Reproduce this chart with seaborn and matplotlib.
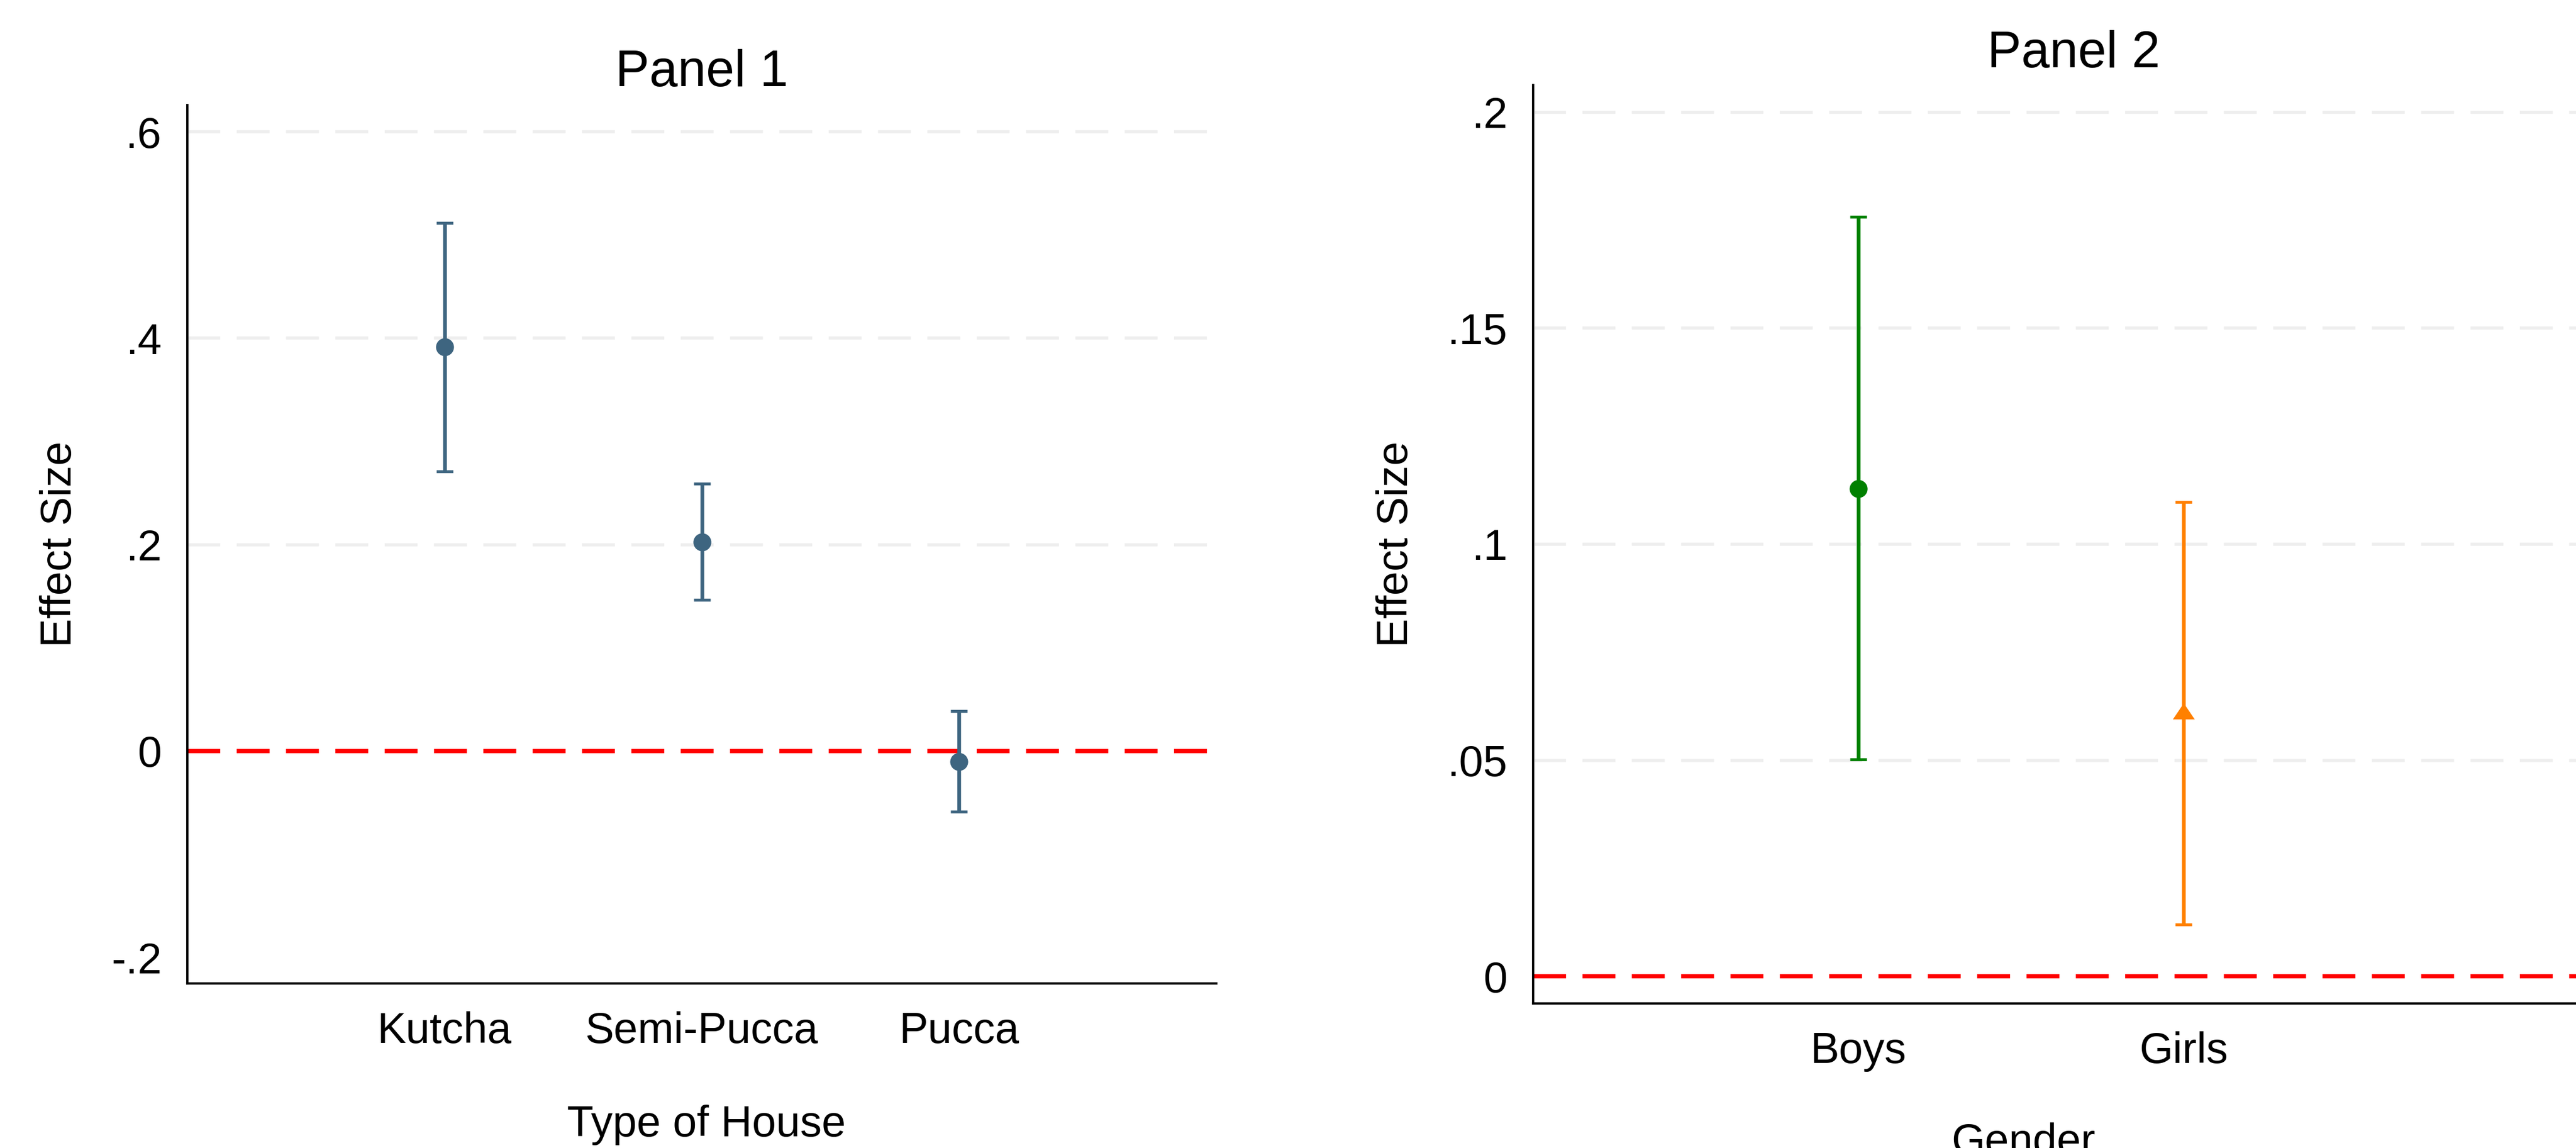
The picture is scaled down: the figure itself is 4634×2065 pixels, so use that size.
import numpy as np
import pandas as pd
import seaborn as sns
import matplotlib.pyplot as plt

# Panel 1: effect by type of house (point estimate and CI bounds)
house_types = ["Kutcha", "Semi-Pucca", "Pucca"]
house_est = [0.3915, 0.2025, -0.0104]
house_lo = [0.271, 0.1465, -0.0588]
house_hi = [0.512, 0.259, 0.0385]

# Panel 2: effect by gender
genders = ["Boys", "Girls"]
gender_est = [0.1129, 0.0614]
gender_lo = [0.0502, 0.0120]
gender_hi = [0.1758, 0.1098]

house_yticks = [-0.2, 0, 0.2, 0.4, 0.6]
house_yticklabels = ["-.2", "0", ".2", ".4", ".6"]
gender_yticks = [0, 0.05, 0.1, 0.15, 0.2]
gender_yticklabels = ["0", ".05", ".1", ".15", ".2"]

sns.set_theme(style="white")
plt.rcParams["font.family"] = ["Liberation Sans", "DejaVu Sans"]
plt.rcParams["lines.scale_dashes"] = False
plt.rcParams["text.color"] = "black"
plt.rcParams["axes.labelcolor"] = "black"
plt.rcParams["xtick.color"] = "black"
plt.rcParams["ytick.color"] = "black"

DASH = (42.6, 21.3)
GRID_COLOR = "#EEEEEE"
BLUE = "#3E6580"
GREEN = "#008000"
ORANGE = "#FF8000"
FS = 56

fig = plt.figure(figsize=(46.34, 20.65), dpi=100)
ax1 = fig.add_axes([0.07272, 0.14334, 0.3995, 0.76513])
ax2 = fig.add_axes([0.5952, 0.12591, 0.4165, 0.8])


def style_axis(ax):
    for side in ["top", "right"]:
        ax.spines[side].set_visible(False)
    for side in ["left", "bottom"]:
        ax.spines[side].set_linewidth(3.0)
        ax.spines[side].set_color("black")
    ax.tick_params(axis="both", direction="out", length=20, width=3.0,
                   color="black", labelsize=FS, labelcolor="black")
    ax.tick_params(axis="y", pad=13)
    ax.tick_params(axis="x", pad=16)
    ax.grid(False)


def draw_ci(ax, pos, est, lo, hi, color):
    est = np.array(est)
    yerr = [est - np.array(lo), np.array(hi) - est]
    ax.errorbar(pos, est, yerr=yerr, fmt="none", ecolor=color,
                elinewidth=4.8, capsize=10.5, capthick=3.8, zorder=3)


# ---- Panel 1
house_pos = np.arange(1, len(house_types) + 1)
for g in [0.2, 0.4, 0.6]:
    ax1.axhline(g, color=GRID_COLOR, lw=4, dashes=DASH, zorder=0)
ax1.axhline(0, color="red", lw=5.5, dashes=DASH, zorder=1)
draw_ci(ax1, house_pos, house_est, house_lo, house_hi, BLUE)
df1 = pd.DataFrame({"pos": house_pos, "est": house_est})
sns.scatterplot(data=df1, x="pos", y="est", color=BLUE, s=540,
                linewidth=0, zorder=4, ax=ax1)
ax1.set_xlim(0, 4)
ax1.set_ylim(-0.2253, 0.626)
ax1.set_xticks(house_pos)
ax1.set_xticklabels(house_types)
ax1.set_yticks(house_yticks)
ax1.set_yticklabels(house_yticklabels)
style_axis(ax1)
ax1.set_title("Panel 1", fontsize=66, pad=24.5)
ax1.set_xlabel("Type of House", fontsize=FS)
ax1.xaxis.label.set_va("baseline")
ax1.xaxis.set_label_coords(0.5046, -0.174)
ax1.set_ylabel("Effect Size", fontsize=FS)
ax1.yaxis.label.set_va("center")
ax1.yaxis.set_label_coords(-0.1237, 0.5)

# ---- Panel 2
gender_pos = np.arange(1, len(genders) + 1)
for g in [0.05, 0.1, 0.15, 0.2]:
    ax2.axhline(g, color=GRID_COLOR, lw=4, dashes=DASH, zorder=0)
ax2.axhline(0, color="red", lw=5.5, dashes=DASH, zorder=1)
draw_ci(ax2, gender_pos[:1], gender_est[:1], gender_lo[:1], gender_hi[:1], GREEN)
draw_ci(ax2, gender_pos[1:], gender_est[1:], gender_lo[1:], gender_hi[1:], ORANGE)
tri = np.array([[-1.0, -0.74], [1.0, -0.74], [0.0, 0.74], [-1.0, -0.74]])
sns.scatterplot(x=gender_pos[:1], y=gender_est[:1], color=GREEN, s=540,
                linewidth=0, zorder=4, ax=ax2)
sns.scatterplot(x=gender_pos[1:], y=gender_est[1:], color=ORANGE, s=800,
                marker=tri, linewidth=0, zorder=4, ax=ax2)
ax2.set_xlim(0, 3.3)
ax2.set_ylim(-0.0063, 0.2063)
ax2.set_xticks(gender_pos)
ax2.set_xticklabels(genders)
ax2.set_yticks(gender_yticks)
ax2.set_yticklabels(gender_yticklabels)
style_axis(ax2)
ax2.set_title("Panel 2", fontsize=66, pad=23, x=0.504)
ax2.set_xlabel("Gender", fontsize=FS)
ax2.xaxis.label.set_va("baseline")
ax2.xaxis.set_label_coords(0.4565, -0.164)
ax2.set_ylabel("Effect Size", fontsize=FS)
ax2.yaxis.label.set_va("center")
ax2.yaxis.set_label_coords(-0.128, 0.5)

fig.savefig("out.png", dpi=100, facecolor="white")
